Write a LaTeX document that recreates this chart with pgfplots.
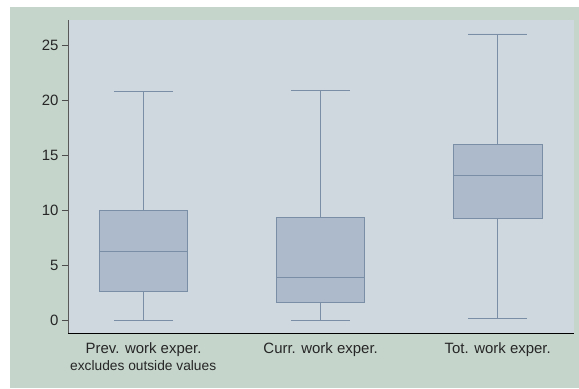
\documentclass[border=0pt]{standalone}
\usepackage{fontspec}
\setmainfont{Liberation Sans}
\usepackage{pgfplots}
\pgfplotsset{compat=1.18}
\usepgfplotslibrary{statistics}
\definecolor{outerbg}{RGB}{197,213,203}
\definecolor{plotbg}{RGB}{208,216,223}
\definecolor{boxfill}{RGB}{173,186,203}
\definecolor{boxline}{RGB}{122,142,166}
\begin{document}
\begin{tikzpicture}[x=1bp,y=1bp]
\path[use as bounding box] (-68,-55) rectangle (511,333);
\fill[white] (-68,-55) rectangle (511,333);
\fill[outerbg] (-58,-55) rectangle (511,326);
\begin{axis}[
  at={(0,0)}, anchor=south west,
  scale only axis, width=506bp, height=313bp,
  xmin=0.573, xmax=3.431, ymin=-1.18, ymax=27.27,
  axis background/.style={fill=plotbg},
  axis x line*=bottom, axis y line*=left,
  x axis line style={black,-,line width=0.8pt},
  y axis line style={black!65,-,line width=0.8pt},
  ytick={0,5,10,15,20,25},
  xtick={1,2,3},
  xticklabels={Prev. work exper., Curr. work exper., Tot. work exper.},
  xtick style={draw=none},
  ytick style={black!70,line width=0.6pt},
  tick align=outside, major tick length=6bp,
  /pgf/number format/assume math mode=true,
  ticklabel style={font=\fontsize{15}{15}\selectfont, text=black!85},
  boxplot/draw direction=y,
]
\addplot[draw=boxline, fill=boxfill, line width=0.9pt, boxplot prepared={
  draw position=1, box extend=0.5, whisker extend=0.333,
  lower whisker=0, lower quartile=2.64, median=6.24, upper quartile=9.97, upper whisker=20.75}] coordinates {};
\addplot[draw=boxline, fill=boxfill, line width=0.9pt, boxplot prepared={
  draw position=2, box extend=0.5, whisker extend=0.333,
  lower whisker=0, lower quartile=1.61, median=3.85, upper quartile=9.33, upper whisker=20.9}] coordinates {};
\addplot[draw=boxline, fill=boxfill, line width=0.9pt, boxplot prepared={
  draw position=3, box extend=0.5, whisker extend=0.333,
  lower whisker=0.12, lower quartile=9.21, median=13.15, upper quartile=15.94, upper whisker=26.0}] coordinates {};
\end{axis}
\node[anchor=west, inner sep=0, font=\fontsize{13.8}{14}\selectfont, text=black!85] at (2,-33) {excludes outside values};
\end{tikzpicture}
\end{document}
